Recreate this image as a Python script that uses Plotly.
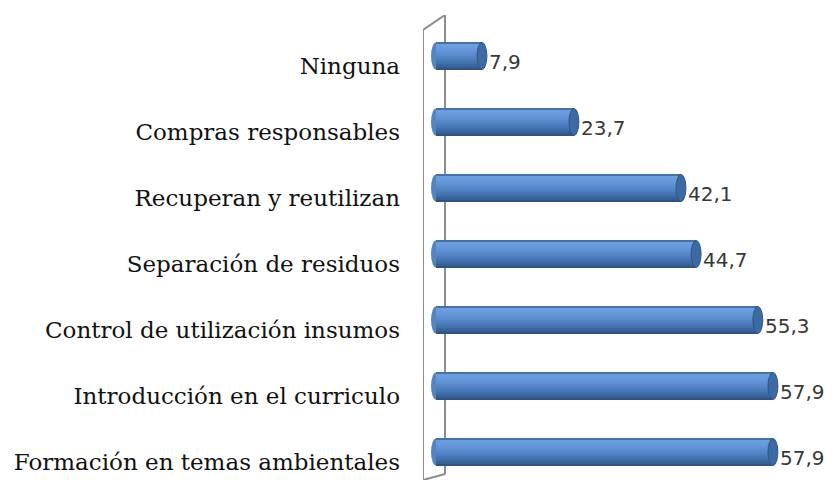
import plotly.graph_objects as go

categories = [
    "Formación en temas ambientales",
    "Introducción en el curriculo",
    "Control de utilización insumos",
    "Separación de residuos",
    "Recuperan y reutilizan",
    "Compras responsables",
    "Ninguna",
]
values = [57.9, 57.9, 55.3, 44.7, 42.1, 23.7, 7.9]

# vertical shading of the cylinder, from the top edge to the bottom edge
shade = ["#4571aa", "#6d9fe0", "#6a9cdd", "#6698da", "#6294d6", "#5d8fd1",
         "#588acb", "#5384c4", "#4d7ebd", "#4777b4", "#4170aa", "#3b689f",
         "#346093", "#2d5283"]

BAR_W = 0.41
n = len(shade)
pos = list(range(len(categories)))

fig = go.Figure()
for k, col in enumerate(shade):
    fig.add_trace(go.Bar(
        x=values, y=pos, orientation="h",
        width=BAR_W / n, offset=BAR_W / 2 - (k + 1) * BAR_W / n,
        marker=dict(color=col, line=dict(width=0)),
        showlegend=False, hoverinfo="skip",
    ))

shapes = []
cap = 0.85
for i, v in enumerate(values):
    # left rounded end (behind the body)
    shapes.append(dict(type="circle", xref="x", yref="y", layer="below",
                       x0=-cap, x1=cap, y0=i - BAR_W / 2, y1=i + BAR_W / 2,
                       fillcolor="#5384c4", line=dict(width=0)))
    # right end cap
    shapes.append(dict(type="circle", xref="x", yref="y", layer="above",
                       x0=v - cap, x1=v + cap, y0=i - BAR_W / 2, y1=i + BAR_W / 2,
                       fillcolor="#3d6aa3", line=dict(color="#2f5687", width=1)))

# 3D wall (decoration)
wall = dict(color="#8c8c8c", width=2)
xf, xb = -2.23, 1.55
ytop_b, ytop_f = 6.621, 6.394
ybot_b, ybot_f = -0.333, -0.424
shapes += [
    dict(type="line", xref="x", yref="y", x0=xf, x1=xf, y0=ybot_f, y1=ytop_f, line=wall, layer="below"),
    dict(type="line", xref="x", yref="y", x0=xb, x1=xb, y0=ybot_b, y1=ytop_b, line=wall, layer="below"),
    dict(type="line", xref="x", yref="y", x0=xf, x1=xb, y0=ytop_f, y1=ytop_b, line=wall, layer="below"),
    dict(type="line", xref="x", yref="y", x0=xb, x1=xf, y0=ybot_b, y1=ybot_f, line=wall, layer="below"),
]

annotations = []
for i, v in enumerate(values):
    annotations.append(dict(
        x=v, y=i, xref="x", yref="y", xanchor="left", yanchor="middle",
        xshift=5, yshift=-6, showarrow=False,
        text=f"{v:.1f}".replace(".", ","),
        font=dict(family="DejaVu Sans", size=20, color="#383838"),
    ))

fig.update_layout(
    width=826, height=472,
    margin=dict(l=415, r=40, t=7, b=0),
    paper_bgcolor="white", plot_bgcolor="white",
    barmode="overlay", bargap=0,
    shapes=shapes, annotations=annotations,
    xaxis=dict(range=[-2.23, 61.52], visible=False, fixedrange=True),
    yaxis=dict(range=[-0.424, 6.621], tickmode="array", tickvals=pos,
               ticktext=categories, showgrid=False, zeroline=False,
               showline=False, ticks="", ticklabelstandoff=22,
               ticklabelshift=10,
               tickfont=dict(family="DejaVu Serif", size=23, color="#111111")),
)

fig.write_html("out.html")
